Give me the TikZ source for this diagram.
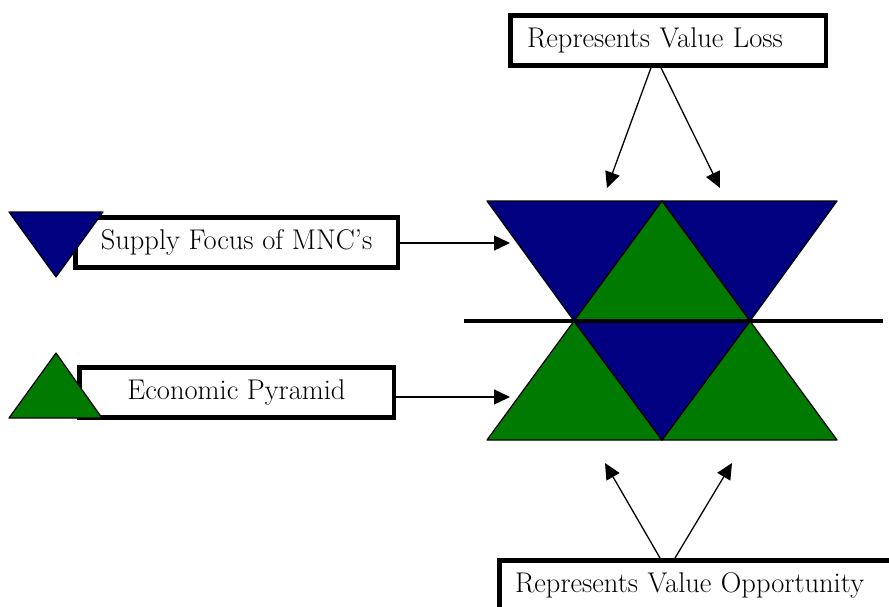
\documentclass[tikz,border=0pt]{standalone}
\usepackage{fontspec}
\usetikzlibrary{arrows.meta,positioning}
\definecolor{supplyblue}{RGB}{0,0,128}
\definecolor{pyrgreen}{RGB}{0,122,0}

\begin{document}
\begin{tikzpicture}[x=1pt,y=-1pt,
  box/.style={draw=black,line width=4.5pt,fill=white,
              minimum height=50pt,inner ysep=0pt,
              font=\fontsize{28.5}{32}\selectfont},
  lbox/.style={box,align=left},
  tri/.style={draw=black,line width=1.2pt,line join=round},
  arr/.style={-{Triangle[length=16pt,width=15pt]},line width=1.3pt}
]
\useasboundingbox (0,0) rectangle (889,607);
\clip (0,0) rectangle (889,607);

% legend on the left
\node[box,minimum width=322.5pt] (supply) at (236.5,242.5) {Supply Focus of MNC’s};
\node[box,minimum width=314.5pt] (econ)   at (236.5,392.5) {Economic Pyramid};
\draw[tri,fill=supplyblue] (9,212) -- (103,212) -- (56,277) -- cycle;
\draw[tri,fill=pyrgreen]   (56,353) -- (102,418) -- (9,418) -- cycle;

% labels top and bottom
\node[lbox,inner xsep=16.75pt,text width=282pt] (loss) at (668,40.5) {Represents Value Loss};
\node[lbox,inner xsep=15.75pt,text width=380pt,anchor=north west]
     (opp) at (497,558) {Represents Value Opportunity};

% the six triangles
\draw[tri,fill=supplyblue] (487,201) -- (662,201) -- (574,321) -- cycle;
\draw[tri,fill=supplyblue] (662,201) -- (837,201) -- (750,321) -- cycle;
\draw[tri,fill=pyrgreen]   (662,201) -- (750,321) -- (574,321) -- cycle;
\draw[tri,fill=pyrgreen]   (574,321) -- (662,440) -- (487,440) -- cycle;
\draw[tri,fill=pyrgreen]   (750,321) -- (837,440) -- (662,440) -- cycle;
\draw[tri,fill=supplyblue] (574,321) -- (750,321) -- (662,440) -- cycle;
\coordinate (midL) at (464,321);
\coordinate (midR) at (883,321);
\draw[line width=3.5pt] (midL) -- (midR);

% arrows
\coordinate (supplytip) at (510,243);
\coordinate (econtip)   at (510,397);
\coordinate (losstipL)  at (607,188);
\coordinate (losstipR)  at (720,188);
\coordinate (opptipL)   at (605,463);
\coordinate (opptipR)   at (732,463);
\draw[arr] (supply.east |- supplytip) -- (supplytip);
\draw[arr] (econ.east |- econtip) -- (econtip);
\draw[arr] ([xshift=-17pt]loss.south) -- (losstipL);
\draw[arr] ([xshift=-7pt]loss.south) -- (losstipR);
\draw[arr] ([xshift=163pt]opp.north west) -- (opptipL);
\draw[arr] ([xshift=178pt]opp.north west) -- (opptipR);
\end{tikzpicture}
\end{document}
